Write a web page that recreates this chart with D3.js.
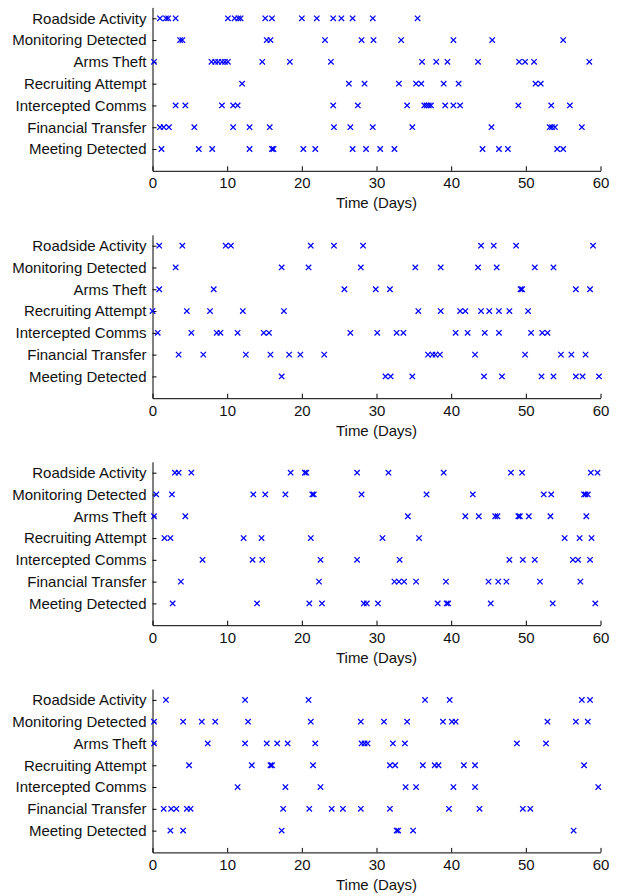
<!DOCTYPE html>
<html>
<head>
<meta charset="utf-8">
<script src="https://cdn.jsdelivr.net/npm/d3@7"></script>
<style>
  body { margin: 0; background: #fff; }
  svg { display: block; font-family: "Liberation Sans", Arial, sans-serif; }
</style>
</head>
<body>
<svg id="chart"></svg>
<script>
// Kategorier (top til bund)
const categories = [
  "Roadside Activity",
  "Monitoring Detected",
  "Arms Theft",
  "Recruiting Attempt",
  "Intercepted Comms",
  "Financial Transfer",
  "Meeting Detected"
];
const xTicks = [0, 10, 20, 30, 40, 50, 60];
const xLabel = "Time (Days)";

// Hændelser i dage, en række pr. kategori (samme rækkefølge som categories)
const panel1 = [
  [1.0, 1.8, 2.1, 3.1, 10.1, 11.0, 11.5, 11.8, 15.1, 16.0, 20.0, 22.0, 24.2, 25.3, 26.8, 29.5, 35.5],
  [3.7, 4.0, 15.3, 15.8, 23.1, 28.0, 29.6, 33.3, 40.3, 45.5, 55.0],
  [0.2, 7.9, 8.4, 8.8, 9.3, 9.7, 10.1, 14.7, 18.4, 23.9, 36.1, 38.0, 39.5, 43.6, 49.1, 49.9, 51.1, 58.5],
  [12.0, 26.3, 28.4, 33.0, 35.3, 36.0, 39.0, 41.0, 51.3, 52.0],
  [3.1, 4.4, 9.3, 10.8, 11.4, 24.2, 27.5, 34.1, 36.4, 36.7, 37.0, 37.3, 39.2, 40.3, 41.2, 49.0, 53.4, 55.9],
  [1.0, 1.5, 2.2, 5.6, 10.8, 13.0, 15.7, 24.3, 26.5, 29.5, 34.8, 45.4, 53.2, 53.5, 53.9, 57.5],
  [1.2, 6.2, 8.0, 13.0, 16.0, 16.2, 20.2, 21.8, 26.8, 28.6, 30.5, 32.4, 44.2, 46.4, 47.6, 54.2, 55.0]
];
const panel2 = [
  [0.9, 4.0, 9.8, 10.5, 21.2, 24.3, 28.2, 44.0, 45.7, 48.7, 59.0],
  [3.1, 17.3, 20.9, 27.9, 35.2, 38.6, 43.6, 46.1, 51.2, 53.7],
  [0.9, 8.2, 25.7, 29.9, 31.8, 49.3, 49.5, 56.7, 58.6],
  [0.0, 4.6, 7.7, 12.1, 17.6, 35.6, 38.6, 41.2, 41.9, 44.0, 45.1, 46.4, 47.8, 50.3],
  [0.7, 5.2, 8.6, 9.1, 11.4, 14.9, 15.6, 26.5, 30.1, 32.7, 33.6, 40.6, 42.2, 44.5, 46.4, 50.7, 52.2, 52.9],
  [3.5, 6.8, 12.5, 15.8, 18.3, 19.8, 23.0, 36.9, 37.5, 37.9, 38.5, 43.2, 49.9, 54.7, 56.1, 58.0],
  [17.3, 31.2, 31.9, 34.8, 44.4, 46.8, 52.1, 53.7, 56.7, 57.6, 59.8]
];
const panel3 = [
  [3.0, 3.5, 5.2, 18.5, 20.4, 20.6, 27.4, 31.6, 39.0, 48.0, 49.5, 58.7, 59.6],
  [0.5, 2.6, 13.5, 15.1, 17.8, 21.4, 21.6, 28.0, 36.7, 42.9, 52.4, 53.4, 57.8, 58.0, 58.3],
  [0.2, 4.4, 34.2, 41.9, 43.7, 45.9, 46.2, 49.0, 49.2, 50.4, 53.3, 58.1],
  [1.6, 2.4, 12.2, 14.6, 21.2, 30.8, 35.7, 55.2, 57.2, 58.8],
  [6.7, 13.4, 14.7, 22.5, 27.4, 33.1, 47.8, 49.6, 51.2, 56.3, 57.0, 58.6],
  [3.8, 22.3, 32.4, 33.0, 33.7, 35.3, 39.3, 45.0, 46.3, 47.4, 51.9, 57.3],
  [2.7, 14.0, 21.0, 22.7, 28.3, 28.7, 30.2, 38.2, 39.4, 39.6, 45.3, 53.6, 59.3]
];
const panel4 = [
  [1.8, 12.4, 20.9, 36.5, 39.8, 57.5, 58.6],
  [0.2, 4.1, 6.6, 8.4, 12.8, 21.2, 27.9, 31.0, 34.1, 38.9, 40.1, 40.6, 52.9, 56.7, 58.3],
  [0.2, 7.4, 12.4, 15.3, 16.7, 18.1, 21.8, 28.0, 28.4, 28.8, 32.2, 33.8, 48.8, 52.7],
  [4.9, 13.3, 15.8, 16.0, 21.5, 31.8, 32.5, 36.2, 37.8, 38.3, 41.7, 43.2, 57.8],
  [11.4, 17.8, 22.5, 33.9, 35.3, 40.3, 43.2, 59.7],
  [1.5, 2.5, 3.2, 4.6, 5.1, 17.5, 21.0, 24.0, 25.5, 27.9, 31.8, 39.7, 43.8, 49.6, 50.6],
  [2.4, 4.1, 17.3, 32.7, 32.9, 34.9, 56.4]
];
const panels = [panel1, panel2, panel3, panel4];

// Dimensioner
const width = 619;
const height = 896;
const panelTop = [7.4, 234.8, 461.8, 689];
const panelHeight = 163.4;

const svg = d3.select("#chart")
  .attr("width", width)
  .attr("height", height);

// Fælles x-skala
const xScale = d3.scaleLinear()
  .domain([0, 60])
  .range([152.5, 600.5]);

const marker = "M-2.7,-2.7L2.7,2.7M-2.7,2.7L2.7,-2.7";

panels.forEach((rows, i) => {
  const top = panelTop[i];
  const bottom = top + panelHeight;

  // Kategori 1 = Meeting Detected (bund), 7 = Roadside Activity (top)
  const yScale = d3.scaleLinear()
    .domain([0, 7.5])
    .range([bottom, top]);

  const g = svg.append("g");

  // Y-akse
  g.append("g")
    .attr("transform", `translate(${xScale(0)},0)`)
    .call(d3.axisLeft(yScale)
      .tickValues(d3.range(1, 8))
      .tickFormat(v => categories[7 - v])
      .tickSizeInner(-4)
      .tickSizeOuter(0)
      .tickPadding(6))
    .attr("color", "#000")
    .attr("font-size", 15)
    .attr("font-family", null)
    .selectAll("text").attr("fill", "#111");

  // X-akse
  g.append("g")
    .attr("transform", `translate(0,${bottom})`)
    .call(d3.axisBottom(xScale)
      .tickValues(xTicks)
      .tickSizeInner(-4.5)
      .tickSizeOuter(0)
      .tickPadding(7))
    .attr("color", "#000")
    .attr("font-size", 15)
    .attr("font-family", null)
    .selectAll("text").attr("fill", "#111");

  // Aksetitel
  g.append("text")
    .attr("x", (xScale(0) + xScale(60)) / 2)
    .attr("y", bottom + 37.5)
    .attr("text-anchor", "middle")
    .attr("font-size", 15)
    .attr("fill", "#111")
    .text(xLabel);

  // Markører
  rows.forEach((days, r) => {
    g.append("g")
      .selectAll("path")
      .data(days)
      .join("path")
      .attr("transform", d => `translate(${xScale(d)},${yScale(7 - r)})`)
      .attr("d", marker)
      .attr("fill", "none")
      .attr("stroke", "#0000ff")
      .attr("stroke-width", 1.25);
  });
});
</script>
</body>
</html>
